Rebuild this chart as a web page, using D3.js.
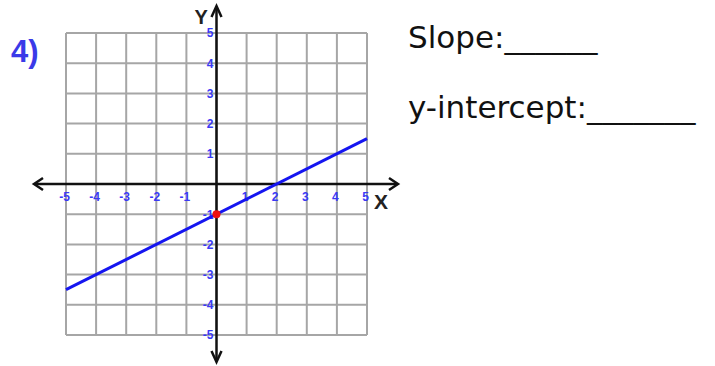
<!DOCTYPE html>
<html>
<head>
<meta charset="utf-8">
<script src="https://cdn.jsdelivr.net/npm/d3@7"></script>
<style>
  body { margin: 0; background: #fff; }
  svg { display: block; }
</style>
</head>
<body>
<div id="chart"></div>
<script>
// grid values and tick labels
const gridValues = [-5, -4, -3, -2, -1, 0, 1, 2, 3, 4, 5];
const xTicks = [-5, -4, -3, -2, -1, 1, 2, 3, 4, 5];
const yTicks = [5, 4, 3, 2, 1, -1, -2, -3, -4, -5];
// the plotted line and its y-intercept point
const linePoints = [{x: -5, y: -3.5}, {x: 5, y: 1.5}];
const interceptPoint = [{x: 0, y: -1}];
const questionLabels = ["Slope:______", "y-intercept:_______"];

const width = 715, height = 366;
const sans = "'Liberation Sans', Arial, sans-serif";

const svg = d3.select("#chart")
    .append("svg")
    .attr("width", width)
    .attr("height", height);

const x = d3.scaleLinear().domain([-5, 5]).range([66, 367]);
const y = d3.scaleLinear().domain([-5, 5]).range([335, 33]);

// grid
const grid = svg.append("g")
    .attr("stroke", "#a6a6a6")
    .attr("stroke-width", 2);

grid.selectAll("line.v")
  .data(gridValues)
  .join("line")
    .attr("class", "v")
    .attr("x1", d => x(d)).attr("x2", d => x(d))
    .attr("y1", y(5)).attr("y2", y(-5));

grid.selectAll("line.h")
  .data(gridValues)
  .join("line")
    .attr("class", "h")
    .attr("y1", d => y(d)).attr("y2", d => y(d))
    .attr("x1", x(-5)).attr("x2", x(5));

// axes with arrows
const axes = svg.append("g")
    .attr("stroke", "#111")
    .attr("stroke-width", 2.5)
    .attr("fill", "none");

axes.append("line")
    .attr("x1", x(-5) - 31).attr("x2", x(5) + 30)
    .attr("y1", y(0)).attr("y2", y(0));
axes.append("line")
    .attr("x1", x(0)).attr("x2", x(0))
    .attr("y1", y(5) - 26).attr("y2", y(-5) + 26);

const ax0 = x(-5) - 32, ax1 = x(5) + 31, ay0 = y(5) - 27, ay1 = y(-5) + 27;
axes.append("path").attr("d", `M${ax0 + 9},${y(0) - 6} L${ax0},${y(0)} L${ax0 + 9},${y(0) + 6}`);
axes.append("path").attr("d", `M${ax1 - 9},${y(0) - 6} L${ax1},${y(0)} L${ax1 - 9},${y(0) + 6}`);
axes.append("path").attr("d", `M${x(0) - 5},${ay0 + 11} L${x(0)},${ay0} L${x(0) + 5},${ay0 + 11}`);
axes.append("path").attr("d", `M${x(0) - 5},${ay1 - 11} L${x(0)},${ay1} L${x(0) + 5},${ay1 - 11}`);

// tick labels (plain hyphen minus, as in the worksheet)
const fmt = d => String(d);
const xAxis = svg.append("g")
    .attr("transform", `translate(-2, ${y(0) + 8})`)
    .call(d3.axisBottom(x).tickValues(xTicks).tickFormat(fmt).tickSize(0).tickPadding(0));
const yAxis = svg.append("g")
    .attr("transform", `translate(${x(0) - 3}, 0)`)
    .call(d3.axisLeft(y).tickValues(yTicks).tickFormat(fmt).tickSize(0).tickPadding(0));

[xAxis, yAxis].forEach(g => {
  g.select(".domain").remove();
  g.attr("font-size", null).attr("font-family", null);
  g.selectAll("text")
    .attr("fill", "#3a3af5")
    .style("font-family", sans)
    .style("font-weight", "bold")
    .style("font-size", "12px");
});

// axis names
svg.append("text")
    .attr("x", x(0) - 22).attr("y", y(5) - 9)
    .style("font-family", sans)
    .style("font-weight", "bold")
    .style("font-size", "20px")
    .attr("fill", "#222")
    .text("Y");
svg.append("text")
    .attr("x", x(5) + 7).attr("y", y(0) + 25)
    .style("font-family", sans)
    .style("font-weight", "bold")
    .style("font-size", "21px")
    .attr("fill", "#222")
    .text("X");

// the line
svg.append("path")
    .datum(linePoints)
    .attr("fill", "none")
    .attr("stroke", "#1515f0")
    .attr("stroke-width", 3)
    .attr("d", d3.line().x(d => x(d.x)).y(d => y(d.y)));

svg.selectAll("circle.pt")
  .data(interceptPoint)
  .join("circle")
    .attr("class", "pt")
    .attr("cx", d => x(d.x))
    .attr("cy", d => y(d.y))
    .attr("r", 4)
    .attr("fill", "#ee1010");

// problem number
svg.append("text")
    .attr("x", 11).attr("y", 62)
    .style("font-family", sans)
    .style("font-weight", "bold")
    .style("font-size", "31px")
    .attr("fill", "#3a3ae8")
    .text("4)");

// questions
svg.selectAll("text.q")
  .data(questionLabels)
  .join("text")
    .attr("class", "q")
    .attr("x", 408)
    .attr("y", (d, i) => 48 + i * 70)
    .style("font-family", "'DejaVu Sans', sans-serif")
    .style("font-size", "31px")
    .attr("fill", "#111")
    .text(d => d);
</script>
</body>
</html>
